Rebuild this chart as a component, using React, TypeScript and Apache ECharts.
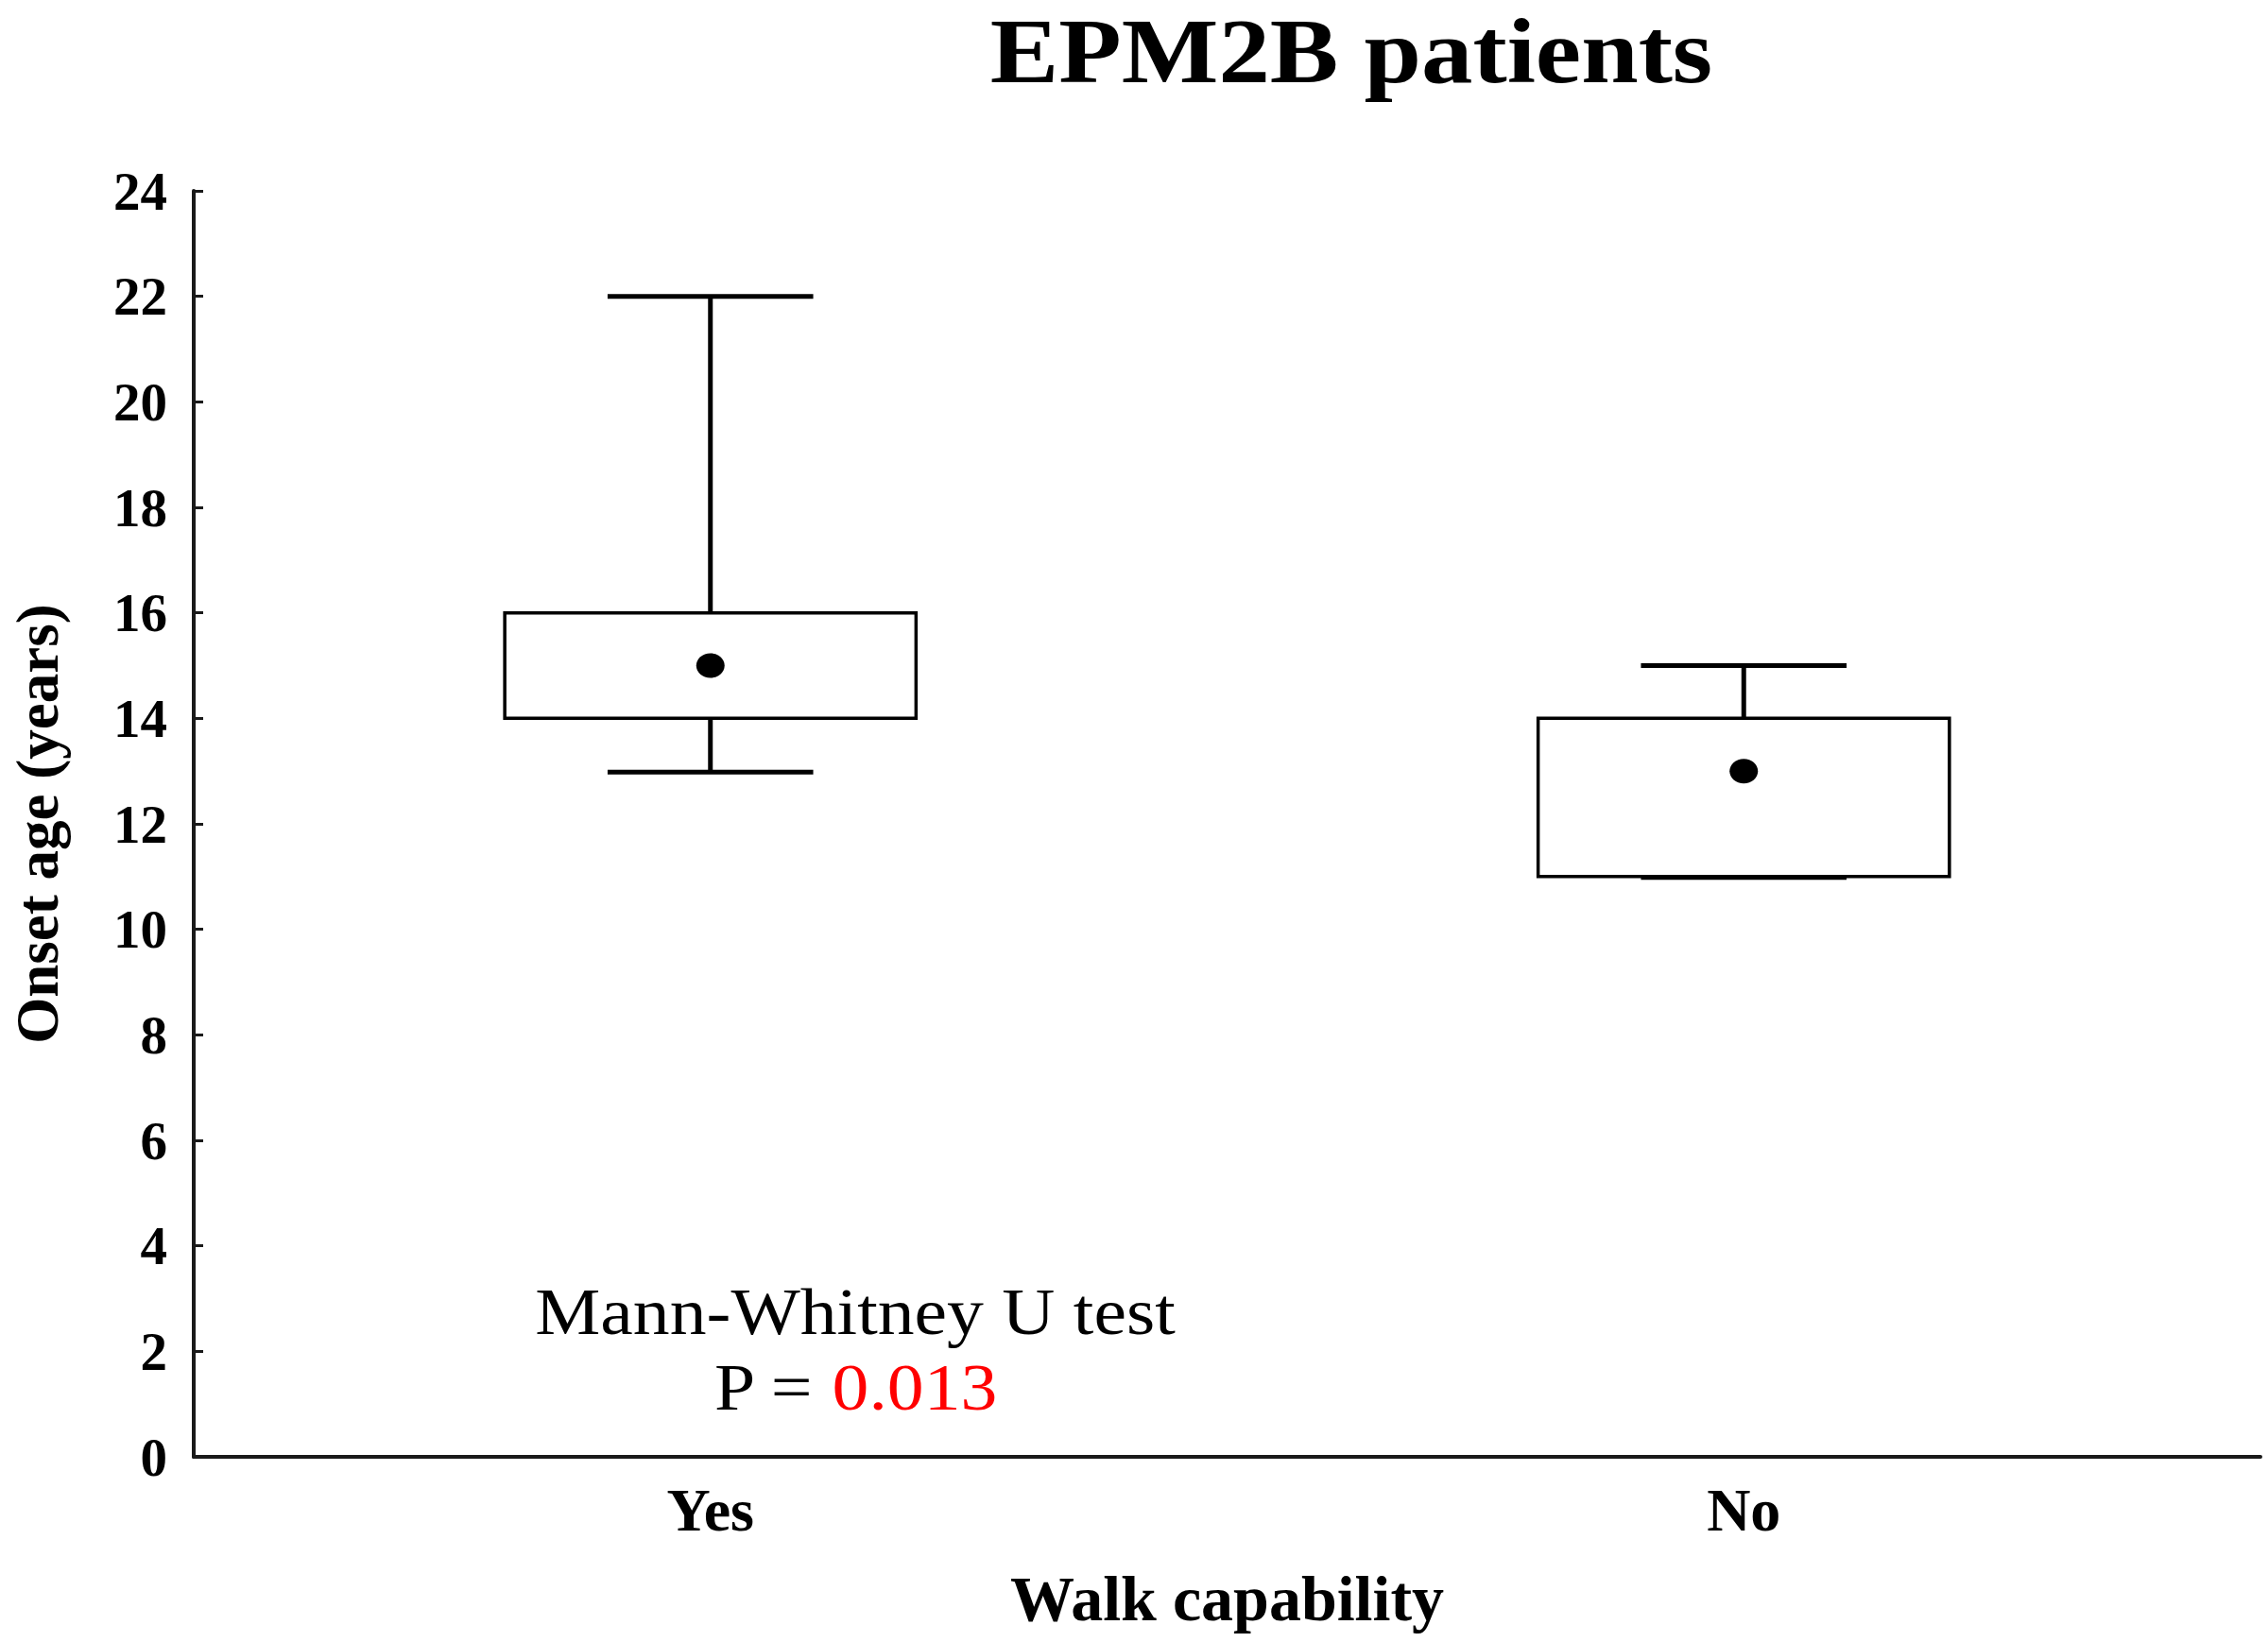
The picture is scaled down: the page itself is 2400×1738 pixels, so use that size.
import React, { useEffect, useRef } from 'react';
import * as echarts from 'echarts';

const categories = ['Yes', 'No'];
const minVals = [13, 11];
const q1Vals = [14, 11];
const medianVals = [15, 13];
const q3Vals = [16, 14];
const maxVals = [22, 15];
const yMin = 0;
const yMax = 24;
const yInterval = 2;

const FONT = '"Liberation Serif", "Times New Roman", Times, serif';

export default function App() {
  const ref = useRef<HTMLDivElement>(null);
  useEffect(() => {
    const chart = echarts.init(ref.current!, null, { renderer: 'svg' });
    const data = categories.map((_, i) => [i, minVals[i], q1Vals[i], medianVals[i], q3Vals[i], maxVals[i]]);
    chart.setOption({
      animation: false,
      backgroundColor: '#ffffff',
      grid: { left: 203, right: 8, top: 202, bottom: 196, containLabel: false },
      xAxis: {
        type: 'category',
        data: categories,
        name: 'Walk capability',
        nameLocation: 'middle',
        nameGap: 116,
        nameTextStyle: { fontFamily: FONT, fontWeight: 'bold', fontSize: 68, color: '#000' },
        axisLine: { lineStyle: { color: '#1a1a1a', width: 4 } },
        axisTick: { inside: true, alignWithLabel: true, length: 8, lineStyle: { color: '#1a1a1a', width: 2 } },
        axisLabel: { fontFamily: FONT, fontWeight: 'bold', fontSize: 64, color: '#000', margin: 24 },
        splitLine: { show: false },
      },
      yAxis: {
        type: 'value',
        min: yMin,
        max: yMax,
        interval: yInterval,
        name: 'Onset age (years)',
        nameLocation: 'middle',
        nameGap: 134,
        nameTextStyle: { fontFamily: FONT, fontWeight: 'bold', fontSize: 63, color: '#000' },
        axisLine: { show: true, lineStyle: { color: '#1a1a1a', width: 4 } },
        axisTick: { show: true, inside: true, length: 10, lineStyle: { color: '#1a1a1a', width: 3 } },
        axisLabel: { fontFamily: FONT, fontWeight: 'bold', fontSize: 57, color: '#000', margin: 28 },
        splitLine: { show: false },
      },
      graphic: [
        {
          type: 'text',
          x: 1430,
          y: 54,
          scaleX: 1.11,
          style: {
            text: 'EPM2B patients',
            fontFamily: FONT,
            fontWeight: 'bold',
            fontSize: 98,
            fill: '#000',
            align: 'center',
            verticalAlign: 'middle',
          },
        },
        {
          type: 'text',
          x: 905,
          y: 1428,
          scaleX: 1.11,
          style: {
            text: '{b|Mann-Whitney U test}\n{b|P = }{r|0.013}',
            align: 'center',
            verticalAlign: 'middle',
            rich: {
              b: { fontFamily: FONT, fontSize: 70, fill: '#000', color: '#000', lineHeight: 80 },
              r: { fontFamily: FONT, fontSize: 70, fill: '#ff0000', color: '#ff0000', lineHeight: 80 },
            },
          },
        },
      ],
      series: [
        {
          type: 'custom',
          coordinateSystem: 'cartesian2d',
          clip: false,
          encode: { x: 0, y: [1, 2, 3, 4, 5] },
          data,
          renderItem: (params: any, api: any) => {
            const idx = api.value(0);
            const pMin = api.coord([idx, api.value(1)]);
            const pQ1 = api.coord([idx, api.value(2)]);
            const pMed = api.coord([idx, api.value(3)]);
            const pQ3 = api.coord([idx, api.value(4)]);
            const pMax = api.coord([idx, api.value(5)]);
            const band = api.size([1, 0])[0];
            const bw = band * 0.398;
            const cw = bw / 2;
            const cx = pMed[0];
            const wStyle = { stroke: '#000', lineWidth: 5, lineCap: 'butt' };
            return {
              type: 'group',
              children: [
                { type: 'line', shape: { x1: cx, y1: pQ3[1], x2: cx, y2: pMax[1] }, style: wStyle },
                { type: 'line', shape: { x1: cx, y1: pMin[1], x2: cx, y2: pQ1[1] }, style: wStyle },
                {
                  type: 'rect',
                  shape: { x: cx - bw / 2, y: pQ3[1], width: bw, height: pQ1[1] - pQ3[1] },
                  style: { fill: '#fff', stroke: '#000', lineWidth: 3.5 },
                },
                { type: 'line', shape: { x1: cx - cw / 2, y1: pMax[1], x2: cx + cw / 2, y2: pMax[1] }, style: wStyle },
                { type: 'line', shape: { x1: cx - cw / 2, y1: pMin[1] + 1, x2: cx + cw / 2, y2: pMin[1] + 1 }, style: wStyle },
                { type: 'ellipse', shape: { cx, cy: pMed[1], rx: 15, ry: 13 }, style: { fill: '#000' } },
              ],
            };
          },
        },
      ],
    });
    return () => chart.dispose();
  }, []);
  return (
    <div
      ref={ref}
      style={{ position: 'fixed', left: 0, top: 0, width: 2400, height: 1738, background: '#fff' }}
    />
  );
}
